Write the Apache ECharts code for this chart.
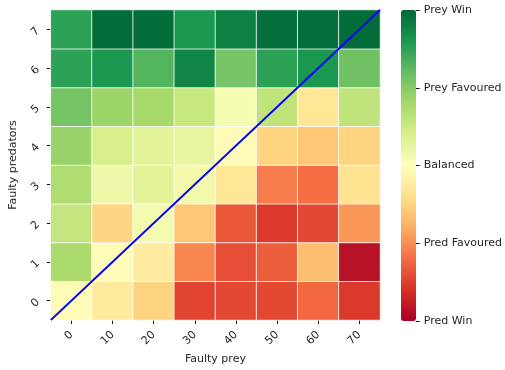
<!DOCTYPE html>
<html><head><meta charset="utf-8">
<script src="https://cdn.jsdelivr.net/npm/echarts@6/dist/echarts.min.js"></script>
<style>html,body{margin:0;padding:0;background:#fff}#c{width:505px;height:370px}</style>
</head><body><div id="c"></div>
<script>
const xCats = ['0','10','20','30','40','50','60','70'];
const yCats = ['0','1','2','3','4','5','6','7'];
// rows: faulty predators 0..7; columns: faulty prey 0..70
const row0 = [-0.02,-0.13,-0.25,-0.73,-0.72,-0.72,-0.62,-0.77];
const row1 = [0.38,-0.02,-0.12,-0.52,-0.70,-0.65,-0.33,-0.93];
const row2 = [0.28,-0.24,0.06,-0.30,-0.67,-0.77,-0.72,-0.47];
const row3 = [0.36,0.09,0.15,0.07,-0.15,-0.55,-0.60,-0.18];
const row4 = [0.44,0.20,0.15,0.12,-0.03,-0.25,-0.30,-0.25];
const row5 = [0.55,0.43,0.40,0.27,0.05,0.30,-0.15,0.30];
const row6 = [0.75,0.80,0.65,0.88,0.55,0.75,0.80,0.57];
const row7 = [0.75,0.98,0.98,0.80,0.90,0.97,0.97,0.98];
const rows = [row0,row1,row2,row3,row4,row5,row6,row7];
const colorbarTicks = ['Pred Win','Pred Favoured','Balanced','Prey Favoured','Prey Win'];
const diagonal = [[0,0],[8,8]];

const rdylgn = ['#a50026','#d73027','#f46d43','#fdae61','#fee08b','#ffffbf','#d9ef8b','#a6d96a','#66bd63','#1a9850','#006837'];
const data = [];
rows.forEach((r, yi) => r.forEach((v, xi) => data.push([xi, yi, v])));

const font = 'DejaVu Sans';
const txt = '#262626';
const chart = echarts.init(document.getElementById('c'));
chart.setOption({
  animation: false,
  textStyle: {fontFamily: font},
  grid: [
    {left: 47, top: 10, width: 333, height: 311},
    {left: 401, top: 10, width: 15, height: 311}
  ],
  xAxis: [
    {type: 'category', data: xCats, gridIndex: 0, name: 'Faulty prey', nameLocation: 'middle', nameGap: 34,
     nameTextStyle: {fontFamily: font, fontSize: 11, color: txt},
     axisLine: {show: false}, axisTick: {show: true, alignWithLabel: true, length: 4, lineStyle: {color: '#111', width: 1}},
     axisLabel: {rotate: 45, fontFamily: font, fontSize: 11, color: txt, margin: 13}, splitLine: {show: false}},
    {type: 'value', gridIndex: 0, min: 0, max: 8, show: false},
    {type: 'value', gridIndex: 1, min: 0, max: 1, show: false}
  ],
  yAxis: [
    {type: 'category', data: yCats, gridIndex: 0, name: 'Faulty predators', nameLocation: 'middle', nameGap: 30,
     nameTextStyle: {fontFamily: font, fontSize: 11, color: txt},
     axisLine: {show: false}, axisTick: {show: true, alignWithLabel: true, length: 4, lineStyle: {color: '#111', width: 1}},
     axisLabel: {rotate: 45, fontFamily: font, fontSize: 11, color: txt, margin: 13}, splitLine: {show: false}},
    {type: 'value', gridIndex: 0, min: 0, max: 8, show: false},
    {type: 'value', gridIndex: 1, min: -1, max: 1, interval: 0.5, position: 'right',
     axisLine: {show: false, onZero: false}, splitLine: {show: false},
     axisTick: {show: true, length: 4, lineStyle: {color: '#111', width: 1}},
     axisLabel: {fontFamily: font, fontSize: 11, color: txt, margin: 8,
       formatter: (v) => colorbarTicks[Math.round((v + 1) / 0.5)]}}
  ],
  visualMap: {
    type: 'continuous', min: -1, max: 1, seriesIndex: 0, calculable: false,
    left: 401, top: 10, itemWidth: 15, itemHeight: 311, padding: 0, text: null, showLabel: false,
    inRange: {color: rdylgn}
  },
  series: [
    {type: 'heatmap', xAxisIndex: 0, yAxisIndex: 0, data: data,
     itemStyle: {borderColor: '#ffffff', borderWidth: 0.8}},
    {type: 'line', xAxisIndex: 1, yAxisIndex: 1, data: diagonal, symbol: 'none',
     lineStyle: {color: '#0000ff', width: 1.8}, z: 5, silent: true},
    {type: 'scatter', xAxisIndex: 2, yAxisIndex: 2, data: [], silent: true}
  ]
});
</script></body></html>
